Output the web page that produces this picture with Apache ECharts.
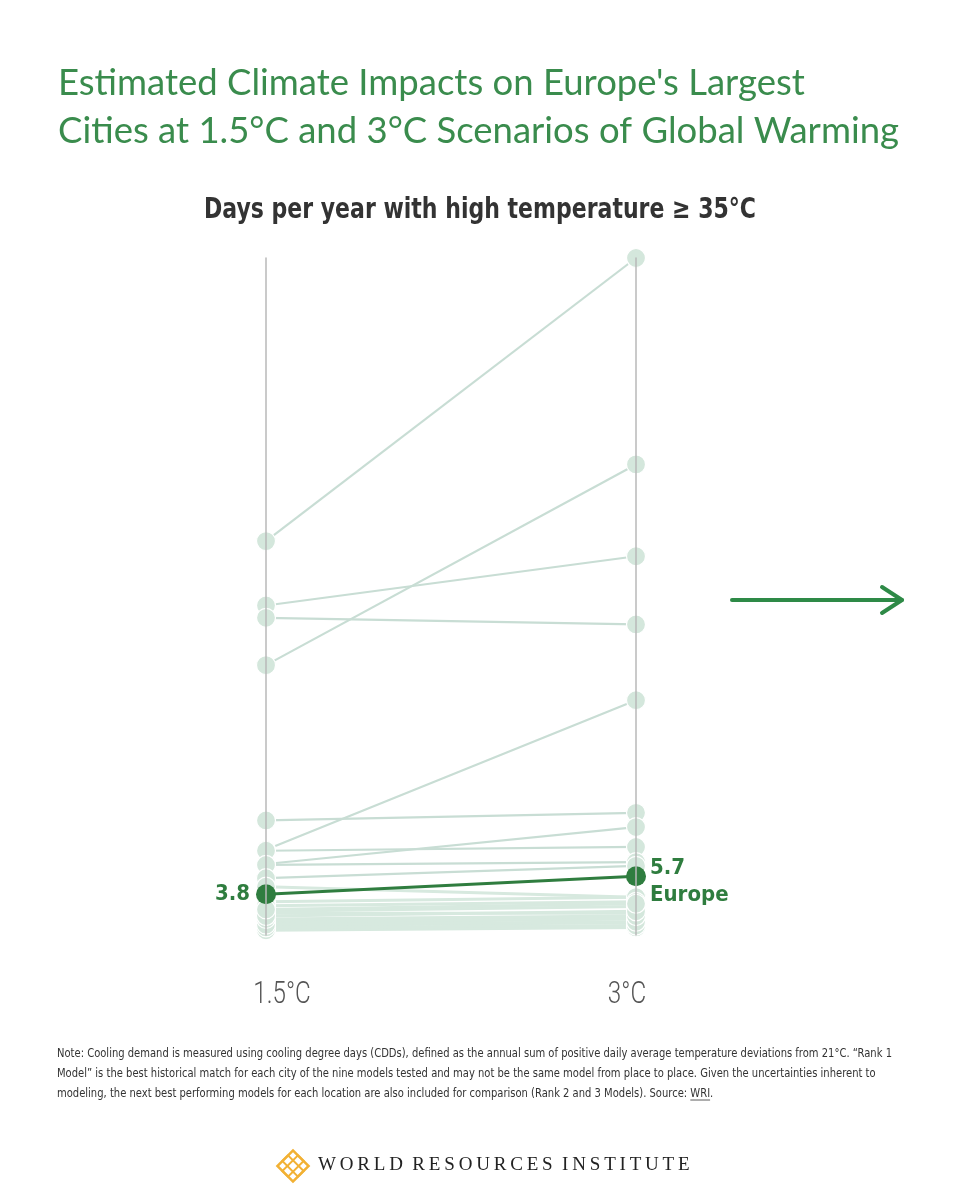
<html><head><meta name="viewport" content="width=device-width, initial-scale=1">
<script src="https://cdn.jsdelivr.net/npm/echarts@6/dist/echarts.min.js"></script>
<style type="text/css">
  html, body { height: 100%; margin: 0; padding: 0; background: #fff; }
</style></head><body><div id="main" style="width: 960px;height:1200px;"></div><script type="text/javascript">
// scenarios on the x axis
var scenarios = ['1.5°C', '3°C'];
// days per year >= 35°C, one value per city for each scenario
var cityNames = ['City 01','City 02','City 03','City 04','City 05','City 06','City 07','City 08','City 09','City 10',
                 'City 11','City 12','City 13','City 14','City 15','City 16','City 17','City 18','City 19','City 20',
                 'City 21','City 22','City 23','City 24','City 25'];
var days15 = [41.1, 28.0, 34.3, 33.0, 8.5, 11.6, 7.0, 8.4, 6.9, 5.5, 4.6, 3.0, 2.0, 1.8, 1.0, 0.5, 0.2, 0.0, 2.6, 0.8,
              0.3, 0.6, 1.2, 1.5, 2.2];
var days3  = [71.0, 49.2, 39.5, 32.3, 24.3, 12.4, 10.9, 8.8, 7.2, 6.8, 3.5, 3.5, 2.5, 1.8, 1.4, 0.8, 0.4, 0.3, 3.0, 1.2,
              0.5, 0.9, 1.5, 2.0, 2.8];
var europe = [3.8, 5.7];

var green = '#3a8c4d';
var dark = '#2f7d3f';
var narrow = '"DejaVu Sans Condensed", "Roboto", sans-serif';
var myChart = echarts.init(document.getElementById('main'));

// text width helper, used to squeeze text into a condensed look
var ctx = document.createElement('canvas').getContext('2d');
function textWidth(txt, font) { ctx.font = font; return ctx.measureText(txt).width; }

var series = [];
for (var i = 0; i < cityNames.length; i++) {
    var low = days15[i] < 5 && days3[i] < 5;
    series.push({
        name: cityNames[i],
        type: 'line',
        symbol: 'circle',
        symbolSize: 19,
        z: 2,
        itemStyle: { color: '#d4e7dc', borderColor: '#fff', borderWidth: 1.2 },
        lineStyle: { color: low ? '#d7e9df' : '#c8ddd4', width: low ? 3 : 2.2 },
        emphasis: { disabled: true },
        data: [days15[i], days3[i]]
    });
}
series.push({
    name: 'Europe',
    type: 'line',
    symbol: 'circle',
    symbolSize: 20,
    z: 5,
    itemStyle: { color: dark },
    lineStyle: { color: dark, width: 3 },
    label: { show: true, fontFamily: narrow, fontWeight: 'bold', fontSize: 22, color: dark },
    data: [
        { value: europe[0], label: { position: 'left', distance: 6, formatter: '{c}' } },
        { value: europe[1], label: { position: 'right', distance: 4, align: 'left', verticalAlign: 'top', offset: [0, -22], lineHeight: 27, formatter: '{c}\nEurope' } }
    ]
});

var yBase = {
    type: 'value', min: -0.5, max: 71, z: 10,
    axisLine: { show: true, lineStyle: { color: '#b9b9b9', width: 1.5 } },
    axisTick: { show: false }, axisLabel: { show: false }, splitLine: { show: false }
};

// note text, last line split so "WRI" can be underlined
var noteLines = [
    'Note: Cooling demand is measured using cooling degree days (CDDs), defined as the annual sum of positive daily average temperature deviations from 21°C. “Rank 1',
    'Model” is the best historical match for each city of the nine models tested and may not be the same model from place to place. Given the uncertainties inherent to',
    'modeling, the next best performing models for each location are also included for comparison (Rank 2 and 3 Models). Source: '
];
var noteFont = '13px ' + narrow;
var noteScale = 835 / textWidth(noteLines[0], noteFont);
var wriX = 57 + noteScale * textWidth(noteLines[2], noteFont);
var wriW = noteScale * textWidth('WRI', noteFont);

var subText = 'Days per year with high temperature ≥ 35°C';
var subFont = 'bold 29px ' + narrow;
var subScale = 552 / textWidth(subText, subFont);

var option = {
    backgroundColor: '#fff',
    animation: false,
    title: {
        text: "Estimated Climate Impacts on Europe's Largest\nCities at 1.5°C and 3°C Scenarios of Global Warming",
        left: 53, top: 54,
        textStyle: { fontFamily: 'Lato', fontWeight: 'normal', fontSize: 36.5, lineHeight: 48, color: green }
    },
    grid: { left: 266, right: 324, top: 258, bottom: 265 },
    xAxis: {
        type: 'category', data: scenarios, boundaryGap: false,
        axisLine: { show: false }, axisTick: { show: false }, axisLabel: { show: false }
    },
    yAxis: [
        Object.assign({ position: 'left' }, yBase),
        Object.assign({ position: 'right' }, yBase)
    ],
    series: series,
    graphic: [
        { type: 'text', x: 480, y: 210, scaleX: subScale, z: 20,
          style: { text: subText, font: subFont, fill: '#333', align: 'center', verticalAlign: 'middle' } },
        { type: 'polyline', z: 20, shape: { points: [[732, 600], [902, 600]] },
          style: { stroke: '#2e8a47', lineWidth: 4, lineCap: 'round', fill: null } },
        { type: 'polyline', z: 20, shape: { points: [[882, 587], [902, 600], [882, 613]] },
          style: { stroke: '#2e8a47', lineWidth: 4, lineCap: 'round', lineJoin: 'round', fill: null } },
        { type: 'text', x: 57, y: 1044, scaleX: noteScale, z: 20,
          style: { text: noteLines.join('\n'), font: noteFont, lineHeight: 20, fill: '#333' } },
        { type: 'text', x: wriX, y: 1084, scaleX: noteScale, z: 20,
          style: { text: 'WRI.', font: noteFont, lineHeight: 20, fill: '#333' } },
        { type: 'line', z: 20, shape: { x1: wriX, y1: 1100, x2: wriX + wriW, y2: 1100 }, style: { stroke: '#333', lineWidth: 0.8 } },
        { type: 'group', x: 293, y: 1166, rotation: Math.PI / 4, z: 20,
          children: [
            { type: 'rect', shape: { x: -11, y: -11, width: 22, height: 22 }, style: { fill: null, stroke: '#f2b134', lineWidth: 2.5 } },
            { type: 'rect', shape: { x: -4, y: -11, width: 8, height: 22 }, style: { fill: null, stroke: '#f2b134', lineWidth: 2 } },
            { type: 'rect', shape: { x: -11, y: -4, width: 22, height: 8 }, style: { fill: null, stroke: '#f2b134', lineWidth: 2 } }
          ] },
        { type: 'text', left: 318, top: 1156, z: 20,
          style: { text: 'W\u2009O\u2009R\u2009L\u2009D  R\u2009E\u2009S\u2009O\u2009U\u2009R\u2009C\u2009E\u2009S  I\u2009N\u2009S\u2009T\u2009I\u2009T\u2009U\u2009T\u2009E',
                   fontFamily: 'Liberation Serif', fontSize: 19, fill: '#222' } }
    ]
};
myChart.setOption(option);

// scenario labels under each axis, placed from the category axis, drawn condensed
var labelShift = [16, -9];
var bottomY = myChart.convertToPixel({ yAxisIndex: 0 }, -0.5);
myChart.setOption({
    graphic: scenarios.map(function (s, k) {
        return { type: 'text', id: 'scen' + k, z: 20,
                 x: myChart.convertToPixel({ xAxisIndex: 0 }, s) + labelShift[k], y: bottomY + 60, scaleX: 0.78,
                 style: { text: s, font: '300 31px Roboto, sans-serif', fill: '#555', align: 'center', verticalAlign: 'middle' } };
    })
});
</script></body></html>
